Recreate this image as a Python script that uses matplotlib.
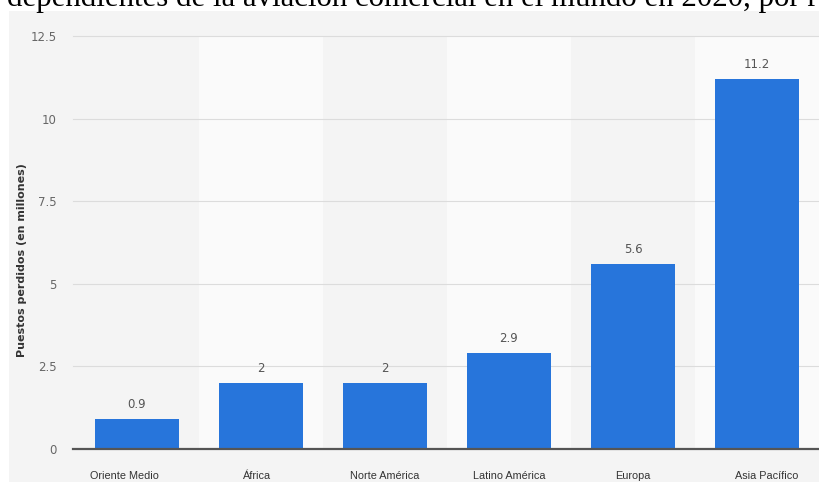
import numpy as np
import matplotlib.pyplot as plt
from matplotlib.patches import Rectangle

regiones = ['Oriente Medio', 'África', 'Norte América', 'Latino América', 'Europa', 'Asia Pacífico']
puestos = [0.9, 2, 2, 2.9, 5.6, 11.2]
etiquetas = ['0.9', '2', '2', '2.9', '5.6', '11.2']
yticks = [0, 2.5, 5, 7.5, 10, 12.5]
yticklabels = ['0', '2.5', '5', '7.5', '10', '12.5']
titulo = 'dependientes de la aviación comercial en el mundo en 2020, por r'

W, H = 820, 482
fig = plt.figure(figsize=(W / 100, H / 100), dpi=100)
fig.patch.set_facecolor('white')

# fondo gris de la captura
fig.patches.append(Rectangle((9 / W, 0), 1 - 9 / W, 1 - 11 / H, transform=fig.transFigure,
                             facecolor='#f4f4f4', edgecolor='none', zorder=-10))

# titulo recortado arriba (como en la captura)
fig.text(7 / W, 1 - 6 / H, titulo, family='Liberation Serif', fontsize=22.2,
         color='black', ha='left', va='baseline')

ax = fig.add_axes([75 / W, 1 - 449 / H, (819 - 75) / W, (449 - 36) / H])
ax.set_facecolor('none')
x = np.arange(len(regiones))
ax.set_xlim(-0.5, len(regiones) - 0.5)
ax.set_ylim(0, 12.5)

# bandas alternas
for i in x:
    if i % 2 == 1:
        ax.axvspan(i - 0.5, i + 0.5, color='#fafafa', zorder=0, lw=0)

for y in yticks[1:]:
    ax.axhline(y, color='#dcdcdc', lw=0.8, zorder=1, xmin=-0.003, clip_on=False)

ax.bar(x, puestos, width=0.68, color='#2775db', zorder=2)
ax.axhline(0, color='#555555', lw=1.6, zorder=3, xmin=-0.003, clip_on=False)

for xi, v, t in zip(x, puestos, etiquetas):
    ax.text(xi, v + 0.25, t, ha='center', va='bottom', fontsize=8.5, color='#555555')

for s in ax.spines.values():
    s.set_visible(False)
ax.set_yticks(yticks)
ax.set_yticklabels(yticklabels, fontsize=8.5, color='#666666')
ax.tick_params(axis='y', length=0, pad=13)
ax.set_xticks([])

# etiquetas de categoria junto al borde inferior
lab_y = -(479 - 449) / (449 - 36)
desplaz = [-0.1, -0.03, 0, 0, 0, 0.08]
for xi, r, d in zip(x, regiones, desplaz):
    ax.text(xi + d, lab_y, r, transform=ax.get_xaxis_transform(), ha='center', va='baseline',
            fontsize=7.8, color='#333333', family='Liberation Sans')

fig.text(22 / W, 1 - 260 / H, 'Puestos perdidos (en millones)', rotation=90,
         ha='center', va='center', fontsize=8, color='#333333', fontweight='bold')

fig.savefig('out.png', dpi=100)
